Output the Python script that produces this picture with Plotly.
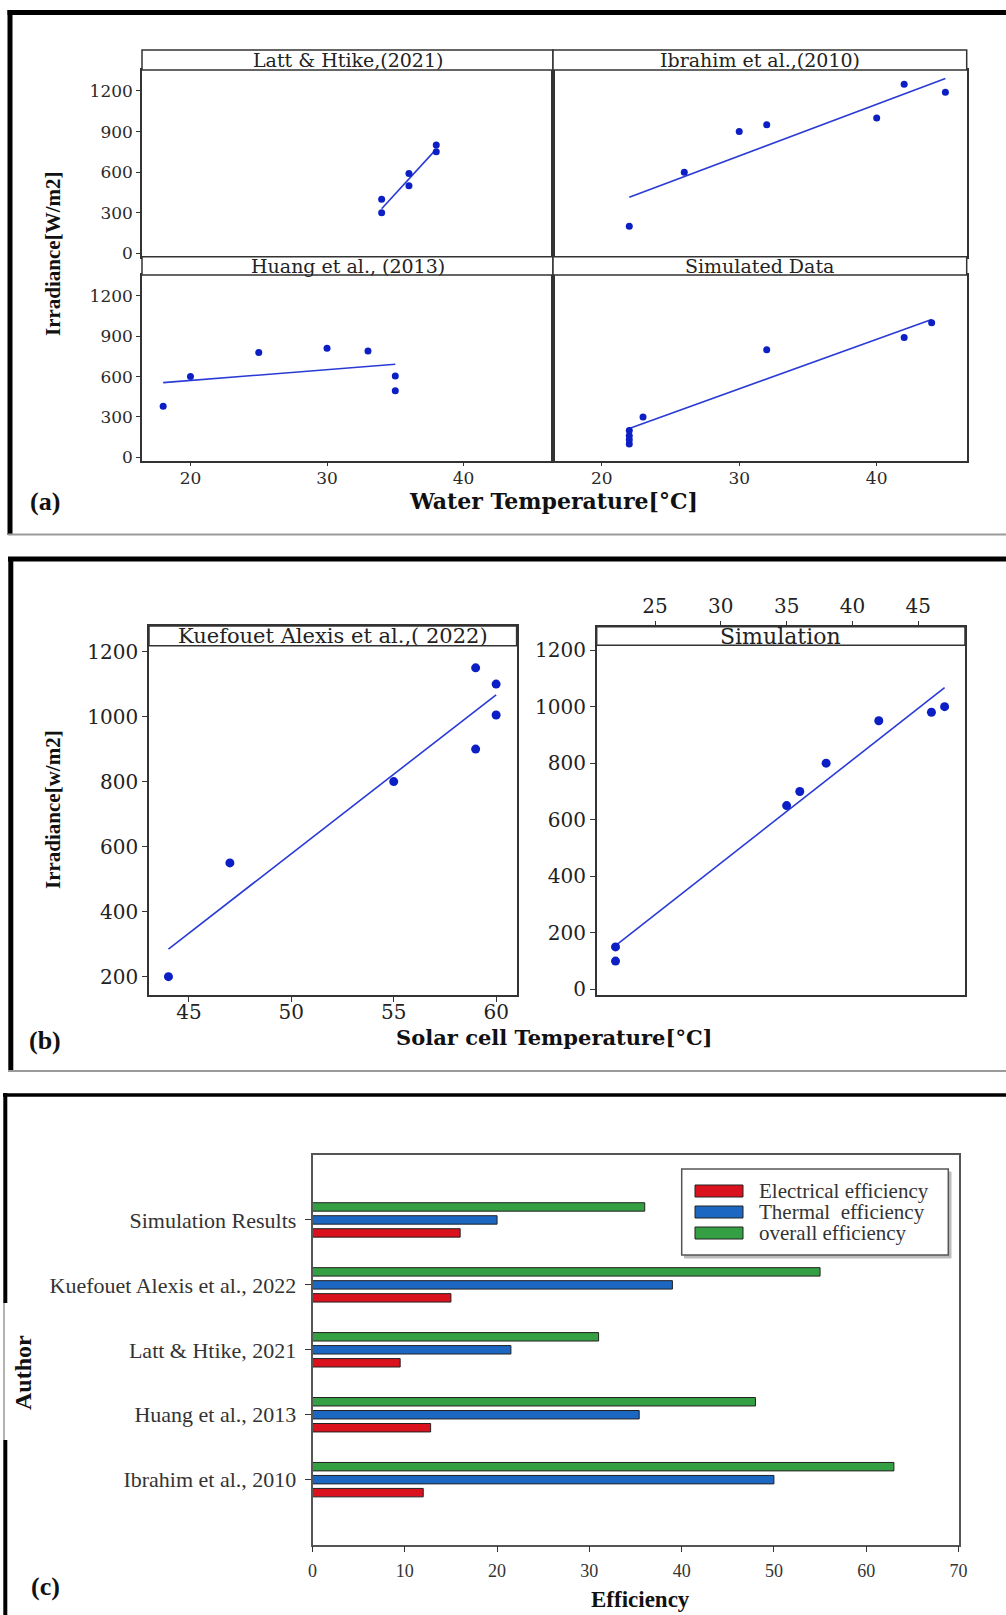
import plotly.graph_objects as go

FIG_W, FIG_H = 1006, 1615

# ---------------- Panel (a): Water temperature vs irradiance ----------------
a_titles = ["Latt & Htike,(2021)", "Ibrahim et al.,(2010)", "Huang et al., (2013)", "Simulated Data"]

latt_x = [34, 34, 36, 36, 38, 38]
latt_y = [300, 400, 500, 590, 750, 800]
latt_fit_x = [34, 38]
latt_fit_y = [330, 770]

ibr_x = [22, 26, 30, 32, 40, 42, 45]
ibr_y = [200, 600, 900, 950, 1000, 1250, 1190]
ibr_fit_x = [22, 45]
ibr_fit_y = [414, 1293]

huang_x = [18, 20, 25, 30, 33, 35, 35]
huang_y = [380, 600, 780, 810, 790, 605, 495]
huang_fit_x = [18, 35]
huang_fit_y = [555, 692]

simw_x = [22, 22, 22, 22, 23, 32, 42, 44]
simw_y = [100, 130, 160, 200, 300, 800, 890, 1000]
simw_fit_x = [22, 44]
simw_fit_y = [215, 1025]

a_yticks = [0, 300, 600, 900, 1200]
a_xticks = [20, 30, 40]

# ---------------- Panel (b): Solar cell temperature vs irradiance ----------------
b_titles = ["Kuefouet Alexis et al.,( 2022)", "Simulation"]

kue_x = [44, 47, 55, 59, 59, 60, 60]
kue_y = [200, 550, 800, 1150, 900, 1100, 1005]
kue_fit_x = [44, 60]
kue_fit_y = [285, 1067]

sims_x = [22, 22, 35, 36, 38, 42, 46, 47]
sims_y = [150, 100, 650, 700, 800, 950, 980, 1000]
sims_fit_x = [22, 47]
sims_fit_y = [155, 1067]

b_left_xticks = [45, 50, 55, 60]
b_left_yticks = [200, 400, 600, 800, 1000, 1200]
b_right_xticks = [25, 30, 35, 40, 45]
b_right_yticks = [0, 200, 400, 600, 800, 1000, 1200]

# ---------------- Panel (c): efficiency comparison ----------------
authors = ["Ibrahim et al., 2010", "Huang et al., 2013", "Latt & Htike, 2021",
           "Kuefouet Alexis et al., 2022", "Simulation Results"]
electrical = [12, 12.8, 9.5, 15, 16]
thermal = [50, 35.4, 21.5, 39, 20]
overall = [63, 48, 31, 55, 36]
series_names = ["Electrical efficiency", "Thermal  efficiency", "overall efficiency"]
series_colors = ["#d9121e", "#1c67c2", "#34a043"]
c_xticks = [0, 10, 20, 30, 40, 50, 60, 70]


def px(x):
    return x / FIG_W


def py(y):
    return 1 - y / FIG_H


MARK = "#0b1fc4"
LINE = "#2a3ad6"
FRAME = "#333333"

fig = go.Figure()

# ----- scatter + fit traces -----
a_sets = [
    (latt_x, latt_y, latt_fit_x, latt_fit_y, "x", "y"),
    (ibr_x, ibr_y, ibr_fit_x, ibr_fit_y, "x2", "y2"),
    (huang_x, huang_y, huang_fit_x, huang_fit_y, "x3", "y3"),
    (simw_x, simw_y, simw_fit_x, simw_fit_y, "x4", "y4"),
]
for xs, ys, fx, fy, xa, ya in a_sets:
    fig.add_trace(go.Scatter(x=fx, y=fy, mode="lines", line=dict(color=LINE, width=1.6),
                             xaxis=xa, yaxis=ya, hoverinfo="skip"))
    fig.add_trace(go.Scatter(x=xs, y=ys, mode="markers", marker=dict(color=MARK, size=7),
                             xaxis=xa, yaxis=ya))

b_sets = [
    (kue_x, kue_y, kue_fit_x, kue_fit_y, "x5", "y5"),
    (sims_x, sims_y, sims_fit_x, sims_fit_y, "x6", "y6"),
]
for xs, ys, fx, fy, xa, ya in b_sets:
    fig.add_trace(go.Scatter(x=fx, y=fy, mode="lines", line=dict(color=LINE, width=1.6),
                             xaxis=xa, yaxis=ya, hoverinfo="skip"))
    fig.add_trace(go.Scatter(x=xs, y=ys, mode="markers", marker=dict(color=MARK, size=9),
                             xaxis=xa, yaxis=ya))

# ----- bars -----
bar_data = [electrical, thermal, overall]
bar_offsets = [-0.265, -0.065, 0.135]
for vals, name, col, off in zip(bar_data, series_names, series_colors, bar_offsets):
    fig.add_trace(go.Bar(x=vals, y=authors, orientation="h", name=name, width=0.13, offset=off,
                         marker=dict(color=col, line=dict(color="#222222", width=1)),
                         xaxis="x7", yaxis="y7"))


def ax(**kw):
    d = dict(showline=True, linecolor=FRAME, linewidth=1.5, mirror=True, showgrid=False,
             zeroline=False, ticks="outside", ticklen=4, tickwidth=1.2, tickcolor=FRAME,
             tickfont=dict(family="DejaVu Serif", size=17, color="#2a2a2a"))
    d.update(kw)
    return d


B_FONT = dict(family="DejaVu Serif", size=20, color="#222")
A_XR = [16.45, 46.55]
A_YR = [-25, 1355]
top_row = [py(256.7), py(70)]
bot_row = [py(460.7), py(275)]
left_col = [px(142), px(553)]
right_col = [px(553), px(966.7)]

layout_axes = dict(
    xaxis=ax(domain=left_col, range=A_XR, anchor="y", showticklabels=False, ticks=""),
    yaxis=ax(domain=top_row, range=A_YR, anchor="x", tickvals=a_yticks),
    xaxis2=ax(domain=right_col, range=A_XR, anchor="y2", showticklabels=False, ticks=""),
    yaxis2=ax(domain=top_row, range=A_YR, anchor="x2", showticklabels=False, ticks=""),
    xaxis3=ax(domain=left_col, range=A_XR, anchor="y3", tickvals=a_xticks, ticklabelstandoff=-3),
    yaxis3=ax(domain=bot_row, range=A_YR, anchor="x3", tickvals=a_yticks),
    xaxis4=ax(domain=right_col, range=A_XR, anchor="y4", tickvals=a_xticks, ticklabelstandoff=-3),
    yaxis4=ax(domain=bot_row, range=A_YR, anchor="x4", showticklabels=False, ticks=""),
    xaxis5=ax(domain=[px(149), px(516.6)], range=[43.05, 61.0], anchor="y5", tickvals=b_left_xticks,
              ticklen=5, ticklabelstandoff=-7, tickfont=B_FONT),
    yaxis5=ax(domain=[py(995), py(626)], range=[143.7, 1278.6], anchor="x5", tickvals=b_left_yticks,
              ticklen=5, tickfont=B_FONT),
    xaxis6=ax(domain=[px(596.7), px(965)], range=[20.57, 48.55], anchor="y6", side="top",
              tickvals=b_right_xticks, tickfont=B_FONT),
    yaxis6=ax(domain=[py(995), py(626.7)], range=[-20, 1282.8], anchor="x6", tickvals=b_right_yticks,
              ticklen=5, tickfont=B_FONT),
    xaxis7=ax(domain=[px(312.5), px(958.5)], range=[0, 70], anchor="y7", tickvals=c_xticks,
              linecolor="#555", ticklen=6, ticklabelstandoff=3,
              tickfont=dict(family="Liberation Serif", size=18, color="#333")),
    yaxis7=ax(domain=[py(1544.6), py(1155)], type="category", categoryorder="array",
              categoryarray=authors, range=[-1, 5], anchor="x7", linecolor="#555", ticklen=6,
              ticklabelstandoff=4, tickfont=dict(family="Liberation Serif", size=22, color="#333")),
)

shapes = []


def rect(x0, y0, x1, y1, line="#333", lw=1.5, fill="white"):
    shapes.append(dict(type="rect", xref="paper", yref="paper", x0=px(x0), x1=px(x1),
                       y0=py(y1), y1=py(y0), line=dict(color=line, width=lw), fillcolor=fill,
                       layer="above"))


def hline(y, x0, x1, color, w):
    shapes.append(dict(type="line", xref="paper", yref="paper", x0=px(x0), x1=px(x1),
                       y0=py(y), y1=py(y), line=dict(color=color, width=w)))


def vline(x, y0, y1, color, w):
    shapes.append(dict(type="line", xref="paper", yref="paper", x0=px(x), x1=px(x),
                       y0=py(y0), y1=py(y1), line=dict(color=color, width=w)))


# strips panel (a)
rect(142, 50, 553, 70)
rect(553, 50, 966.7, 70)
rect(142, 256.7, 553, 275)
rect(553, 256.7, 966.7, 275)
# strips panel (b)
rect(149, 626, 516.6, 645.7)
rect(596.7, 626.7, 965, 645.3)

# panel borders
hline(12.5, 7.5, 1006, "#000", 5)
vline(10, 10, 535, "#000", 5)
hline(534.5, 8, 1006, "#9a9a9a", 2)

hline(559, 8, 1006, "#000", 5)
vline(10.8, 557, 1071, "#000", 5)
hline(1071, 8, 1006, "#9a9a9a", 2)

hline(1095, 3, 1006, "#000", 3.5)
vline(5.3, 1093, 1303, "#000", 4)
vline(4, 1303, 1440, "#9a9a9a", 1.5)
vline(5.3, 1440, 1615, "#000", 4)

# legend for panel (c)
rect(684.5, 1172, 951, 1258, line="#bbbbbb", lw=1, fill="#bbbbbb")
rect(681.7, 1169, 948.3, 1255, line="#555", lw=1.5, fill="white")
legend_rows = [1191, 1212, 1233]
for yy, col in zip(legend_rows, series_colors):
    rect(695, yy - 6, 743, yy + 6, line="#222", lw=1, fill=col)

ann = []


def text(s, x, y, size, family="DejaVu Serif", color="#222", bold=False, angle=0, xanchor="center"):
    ann.append(dict(text=f"<b>{s}</b>" if bold else s, x=px(x), y=py(y), xref="paper", yref="paper",
                    showarrow=False, xanchor=xanchor, yanchor="middle", textangle=angle,
                    font=dict(family=family, size=size, color=color)))


text(a_titles[0], 347.5, 60, 19)
text(a_titles[1], 759.8, 60, 19)
text(a_titles[2], 347.5, 266, 19)
text(a_titles[3], 759.8, 266, 19)
text(b_titles[0], 332.8, 636, 21)
text(b_titles[1], 780.9, 636, 22)

text("Irradiance[W/m2]", 53, 254, 21, family="Liberation Serif", color="#111", bold=True, angle=-90)
text("Water Temperature[°C]", 553, 501, 22, color="#111", bold=True)
text("(a)", 45, 501, 26, family="Liberation Serif", color="#111", bold=True)

text("Irradiance[w/m2]", 53, 810, 21, family="Liberation Serif", color="#111", bold=True, angle=-90)
text("Solar cell Temperature[°C]", 554, 1037, 21, color="#111", bold=True)
text("(b)", 45, 1040, 26, family="Liberation Serif", color="#111", bold=True)

text("Author", 23, 1373, 24, family="Liberation Serif", color="#111", bold=True, angle=-90)
text("Efficiency", 640, 1599, 23, family="Liberation Serif", color="#111", bold=True)
text("(c)", 45, 1586, 26, family="Liberation Serif", color="#111", bold=True)

for yy, name in zip(legend_rows, series_names):
    text(name, 756.7, yy, 21, family="Liberation Serif", color="#333", xanchor="left")

fig.update_layout(
    width=FIG_W, height=FIG_H, autosize=False, margin=dict(l=0, r=0, t=0, b=0, autoexpand=False),
    paper_bgcolor="white", plot_bgcolor="white", showlegend=False, barmode="overlay",
    shapes=shapes, annotations=ann, **layout_axes,
)

fig.write_html("out.html", config={"responsive": False})
